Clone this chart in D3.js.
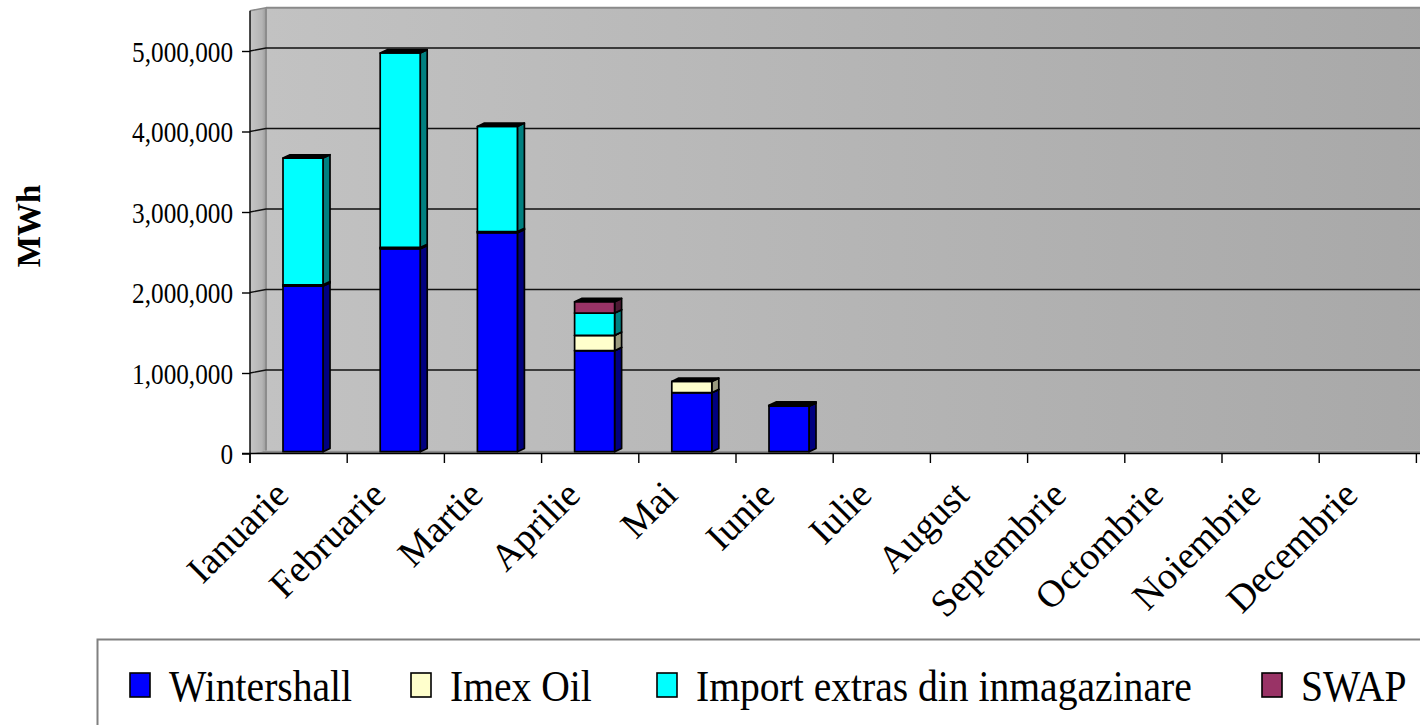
<!DOCTYPE html>
<html><head><meta charset="utf-8">
<script src="https://cdn.jsdelivr.net/npm/d3@7"></script>
<style>
body{margin:0;background:#fff;overflow:hidden;}
svg{display:block;font-family:"Liberation Serif","Times New Roman",serif;}
</style>
</head><body><svg id="c" width="1420" height="725"></svg>
<script>
// ---- data ----
const categories = ["Ianuarie","Februarie","Martie","Aprilie","Mai","Iunie","Iulie","August","Septembrie","Octombrie","Noiembrie","Decembrie"];
const seriesNames = ["Wintershall","Imex Oil","Import extras din inmagazinare","SWAP"];
const wintershall  = [2058000,2522000,2720000,1255000,733000,565000,0,0,0,0,0,0];
const imexOil      = [15000,15000,15000,190000,140000,12000,0,0,0,0,0,0];
const importExtras = [1575000,2416000,1306000,278000,0,0,0,0,0,0,0,0];
const swap         = [0,0,0,140000,0,0,0,0,0,0,0,0];
const yTicks = [0,1000000,2000000,3000000,4000000,5000000];
const yAxisTitle = "MWh";

// ---- styling / layout ----
const frontColors = ["#0000ff","#ffffcc","#00ffff","#993366"];
const sideColors  = ["#000080","#9a9a7e","#008080","#4d1a33"];
const svg = d3.select("#c");
const X0 = 250, X1 = 1416.4, WDX = 16, WDY = -3;
const x = d3.scaleBand().domain(categories).range([X0, X1]);
const y = d3.scaleLinear().domain([0, 5500000]).range([453.5, 10.75]);
const bw = x.bandwidth();

const table = categories.map((c,i)=>({cat:c,
  "Wintershall":wintershall[i],"Imex Oil":imexOil[i],
  "Import extras din inmagazinare":importExtras[i],"SWAP":swap[i]}));
const stacked = d3.stack().keys(seriesNames)(table);

// gradients
const defs = svg.append("defs");
const g1 = defs.append("linearGradient").attr("id","wall").attr("x1","0").attr("x2","1").attr("y1","0").attr("y2","0");
g1.append("stop").attr("offset","0").attr("stop-color","#c2c2c2");
g1.append("stop").attr("offset","1").attr("stop-color","#a8a8a8");
const g2 = defs.append("linearGradient").attr("id","side").attr("x1","0").attr("x2","1").attr("y1","0").attr("y2","0");
g2.append("stop").attr("offset","0").attr("stop-color","#c6c6c6");
g2.append("stop").attr("offset","0.75").attr("stop-color","#b4b4b4");
g2.append("stop").attr("offset","1").attr("stop-color","#9a9a9a");

const yTop = y.range()[1], yBot = y.range()[0];
const pts = a => a.map(p=>p.join(",")).join(" ");

// back wall
svg.append("polygon").attr("points", pts([[X0+WDX,yTop+WDY],[1440,yTop+WDY],[1440,yBot+WDY],[X0+WDX,yBot+WDY]]))
  .attr("fill","url(#wall)");
// left side wall
svg.append("polygon").attr("points", pts([[X0,yTop],[X0+WDX,yTop+WDY],[X0+WDX,yBot+WDY],[X0,yBot]]))
  .attr("fill","url(#side)");
// floor
svg.append("polygon").attr("points", pts([[X0,yBot],[X0+WDX,yBot+WDY],[1440,yBot+WDY],[1440,yBot]]))
  .attr("fill","#8f8f8f");
// wall edges
svg.append("line").attr("x1",X0+WDX).attr("x2",1440).attr("y1",yTop+WDY).attr("y2",yTop+WDY).attr("stroke","#8a8a8a").attr("stroke-width",2);
svg.append("line").attr("x1",X0).attr("x2",X0+WDX).attr("y1",yTop).attr("y2",yTop+WDY).attr("stroke","#8a8a8a").attr("stroke-width",1.5);
svg.append("line").attr("x1",X0+WDX).attr("x2",X0+WDX).attr("y1",yTop+WDY).attr("y2",yBot+WDY).attr("stroke","#8c8c8c").attr("stroke-width",2);

// gridlines
const grid = svg.append("g").attr("stroke","#111").attr("stroke-width",1.4).attr("fill","none");
yTicks.filter(t=>t>0).forEach(t=>{
  grid.append("polyline").attr("points", pts([[X0,y(t)],[X0+WDX,y(t)+WDY],[1440,y(t)+WDY]]));
});

// y axis
const yAxis = svg.append("g").attr("transform",`translate(${X0},0)`)
  .call(d3.axisLeft(y).tickValues(yTicks).tickSize(8).tickFormat(d3.format(",")));
yAxis.select(".domain").remove();
yAxis.selectAll(".tick line").attr("stroke","#000").attr("stroke-width",1.4);
yAxis.selectAll(".tick text")
  .attr("font-family","Liberation Serif").attr("font-size",29).attr("fill","#000")
  .attr("x",-17/0.87).attr("dy",null).attr("y",10.3)
  .attr("transform","scale(0.87,1)").attr("text-anchor","end");
svg.append("line").attr("x1",X0).attr("x2",X0).attr("y1",yTop).attr("y2",463).attr("stroke","#000").attr("stroke-width",1.4);

// x axis
svg.append("line").attr("x1",X0-8).attr("x2",1420).attr("y1",yBot).attr("y2",yBot).attr("stroke","#000").attr("stroke-width",1.4);
const bounds = categories.map(c=>x(c)).concat([X1]);
svg.append("g").selectAll("line").data(bounds).join("line")
  .attr("x1",d=>d).attr("x2",d=>d).attr("y1",yBot).attr("y2",463)
  .attr("stroke","#000").attr("stroke-width",1.4);
svg.append("g").selectAll("text").data(categories).join("text")
  .attr("transform",c=>`translate(${x(c)+bw/2-8},497) rotate(-45)`)
  .attr("text-anchor","end").attr("font-size",38).attr("fill","#000").text(c=>c);

// bars
const BW = 40, BDX = 7, BDY = -3.3, BOX = 4.4, BOY = -1.8;
const barsG = svg.append("g").attr("stroke","#000").attr("stroke-width",1.7).attr("stroke-linejoin","round");
categories.forEach((c,ci)=>{
  const bx = x(c) + bw/2 - BW/2 + BOX;
  stacked.forEach((layer,li)=>{
    const d = layer[ci];
    if (!(d[1] > d[0])) return;
    const yt = y(d[1]) + BOY, yb = y(d[0]) + BOY;
    barsG.append("polygon").attr("points", pts([[bx+BW,yt],[bx+BW+BDX,yt+BDY],[bx+BW+BDX,yb+BDY],[bx+BW,yb]]))
      .attr("fill", sideColors[li]);
    barsG.append("rect").attr("x",bx).attr("y",yt).attr("width",BW).attr("height",yb-yt)
      .attr("fill", frontColors[li]);
    barsG.append("polygon").attr("points", pts([[bx,yt],[bx+BDX,yt+BDY],[bx+BW+BDX,yt+BDY],[bx+BW,yt]]))
      .attr("fill", "#000");
  });
});

// y title
svg.append("text").attr("transform","translate(40,226) rotate(-90)")
  .attr("text-anchor","middle").attr("font-weight","bold").attr("font-size",33).attr("fill","#000").text(yAxisTitle);

// legend
const leg = svg.append("g");
leg.append("rect").attr("x",97.5).attr("y",639.5).attr("width",1360).attr("height",120)
  .attr("fill","#fff").attr("stroke","#808080").attr("stroke-width",2);
const legSquareX = [130, 411, 657, 1262];
const items = leg.selectAll("g.item").data(seriesNames).join("g").attr("class","item")
  .attr("transform",(d,i)=>`translate(${legSquareX[i]},0)`);
items.append("rect").attr("x",0).attr("y",673).attr("width",20).attr("height",24)
  .attr("fill",(d,i)=>frontColors[i]).attr("stroke","#000").attr("stroke-width",1.6);
items.append("text").attr("transform","translate(39,701) scale(0.9,1)")
  .attr("font-size",44).attr("fill","#000").text(d=>d);
</script>
</body></html>
